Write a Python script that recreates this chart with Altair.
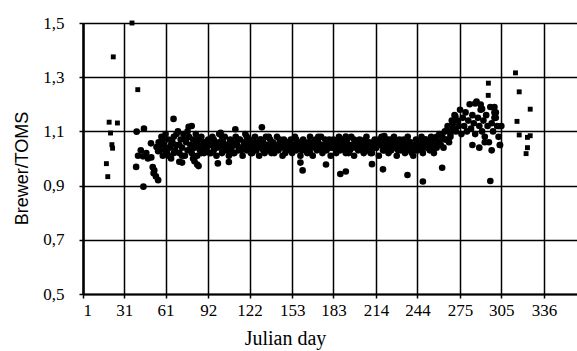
import altair as alt
import pandas as pd

# ---- tick labels ----
x_ticks = [1, 31, 61, 92, 122, 153, 183, 214, 244, 275, 305, 336]
y_ticks = [0.5, 0.7, 0.9, 1.1, 1.3, 1.5]

# ---- early sparse points (small squares) ----
early_sq_day = [18, 19, 20, 21, 22, 22.5, 23, 26, 36.6, 40.8]
early_sq_val = [0.981, 0.933, 1.134, 1.094, 1.051, 1.038, 1.375, 1.131, 1.5, 1.254]

# ---- early scattered points (dots) ----
early_dot_day = [40, 45.3, 50.4, 54.4, 55.6, 41, 44.6, 48.2, 50.6, 39.6, 51.7, 52.8, 52.3, 54, 55.6, 44.9, 66.8, 77.8, 47, 43]
early_dot_val = [1.099, 1.11, 1.056, 1.042, 1.027, 1.01, 1.008, 1.0, 1.004, 0.969, 0.968, 0.956, 0.946, 0.934, 0.92, 0.896, 1.146, 1.117, 1.02, 1.03]

# ---- main band, first row ----
band_a_day = [56, 57, 58, 59, 60, 61, 62, 63, 64, 65, 66, 67, 68, 69, 70, 71, 72, 73, 74, 75,
              76, 77, 78, 79, 80, 81, 82, 83, 84, 85, 86, 87, 88, 89, 90,
              91, 92, 93, 94, 95, 96, 97, 98, 99, 100, 101, 102, 103, 104, 105, 106, 107, 108, 109, 110,
              111, 112, 113, 114, 115, 116, 117, 118, 119, 120, 121, 122, 123, 124, 125, 126, 127, 128, 129, 130,
              131, 132, 133, 134, 135, 136, 137, 138, 139, 140, 141, 142, 143, 144, 145, 146, 147, 148, 149, 150,
              151, 152, 153, 154, 155, 156, 157, 158, 159, 160, 161, 162, 163, 164, 165, 166, 167, 168, 169, 170,
              171, 172, 173, 174, 175, 176, 177, 178, 179, 180, 181, 182, 183, 184, 185, 186, 187, 188, 189, 190,
              191, 192, 193, 194, 195, 196, 197, 198, 199, 200, 201, 202, 203, 204, 205, 206, 207, 208, 209, 210,
              211, 212, 213, 214, 215, 216, 217, 218, 219, 220, 221, 222, 223, 224, 225, 226, 227, 228, 229, 230,
              231, 232, 233, 234, 235, 236, 237, 238, 239, 240, 241, 242, 243, 244, 245, 246, 247, 248, 249, 250,
              251, 252, 253, 254, 255, 256, 257, 258, 259, 260, 261, 262, 263, 264, 265, 266, 267, 268, 269, 270]
band_a_val = [1.06, 1.03, 1.08, 1.01, 1.05, 1.09, 1.02, 1.07, 1.04, 1.00, 1.06, 1.08, 1.03, 1.05, 1.10, 1.02, 1.07, 1.04, 1.09, 1.01,
              1.06, 1.03, 1.08, 1.05, 1.02, 1.07, 1.04, 1.06, 1.01, 1.05, 1.03, 1.08, 1.04, 1.02, 1.06,
              1.04, 1.07, 1.02, 1.05, 1.08, 1.03, 1.06, 1.01, 1.05, 1.09, 1.04, 1.02, 1.06, 1.08, 1.03, 1.05, 1.01, 1.07, 1.04, 1.06,
              1.02, 1.08, 1.05, 1.03, 1.07, 1.04, 1.01, 1.06, 1.09, 1.03, 1.05, 1.07, 1.02, 1.06, 1.04, 1.08, 1.03, 1.05, 1.01, 1.07,
              1.04, 1.06, 1.02, 1.08, 1.05, 1.03, 1.07, 1.04, 1.06, 1.02, 1.05, 1.08, 1.03, 1.06, 1.04, 1.01, 1.07, 1.05, 1.03, 1.06,
              1.04, 1.07, 1.02, 1.05, 1.08, 1.03, 1.06, 1.04, 1.01, 1.05, 1.07, 1.03, 1.05, 1.02, 1.06, 1.08, 1.04, 1.01, 1.05, 1.07,
              1.03, 1.06, 1.04, 1.08, 1.02, 1.05, 1.07, 1.03, 1.06, 1.04, 1.01, 1.05, 1.07, 1.04, 1.02, 1.06, 1.08, 1.03, 1.05, 1.04,
              1.06, 1.02, 1.07, 1.05, 1.03, 1.08, 1.04, 1.01, 1.06, 1.05, 1.03, 1.07, 1.04, 1.06, 1.02, 1.05, 1.08, 1.03, 1.06, 1.04,
              1.02, 1.05, 1.07, 1.04, 1.06, 1.01, 1.05, 1.08, 1.03, 1.06, 1.04, 1.07, 1.02, 1.05, 1.03, 1.06, 1.08, 1.04, 1.01, 1.05,
              1.07, 1.03, 1.06, 1.04, 1.02, 1.05, 1.08, 1.03, 1.06, 1.04, 1.01, 1.05, 1.07, 1.03, 1.06, 1.04, 1.08, 1.02, 1.05, 1.07,
              1.04, 1.06, 1.03, 1.08, 1.05, 1.02, 1.07, 1.04, 1.06, 1.09, 1.05, 1.08, 1.04, 1.10, 1.07, 1.12, 1.06, 1.09, 1.14, 1.11]

# ---- main band, second row ----
band_b_day = [57, 59, 61, 63, 65, 67, 69, 71, 73, 75, 77, 79, 81, 83, 85, 87, 89,
              92, 94, 96, 98, 100, 102, 104, 106, 108, 110, 112, 114, 116, 118, 120, 122, 124, 126, 128, 130,
              132, 134, 136, 138, 140, 142, 144, 146, 148, 150, 152, 154, 156, 158, 160, 162, 164, 166, 168, 170,
              172, 174, 176, 178, 180, 182, 184, 186, 188, 190, 192, 194, 196, 198, 200, 202, 204, 206, 208, 210,
              212, 214, 216, 218, 220, 222, 224, 226, 228, 230, 232, 234, 236, 238, 240, 242, 244, 246, 248, 250,
              252, 254, 256, 258, 260, 262, 264, 266, 268]
band_b_val = [1.05, 1.07, 1.03, 1.01, 1.05, 1.02, 1.09, 1.05, 1.01, 1.07, 1.10, 1.03, 1.00, 1.09, 1.07, 1.02, 1.06,
              1.05, 1.02, 1.07, 1.04, 1.06, 1.08, 1.05, 1.03, 1.06, 1.02, 1.05, 1.07, 1.03, 1.05, 1.08, 1.04, 1.02, 1.06, 1.04, 1.07,
              1.03, 1.05, 1.08, 1.02, 1.05, 1.04, 1.07, 1.05, 1.02, 1.06, 1.05, 1.03, 1.07, 1.05, 1.03, 1.06, 1.04, 1.02, 1.06, 1.04,
              1.08, 1.05, 1.03, 1.05, 1.07, 1.04, 1.06, 1.03, 1.05, 1.07, 1.04, 1.02, 1.05, 1.07, 1.04, 1.05, 1.03, 1.07, 1.05, 1.02,
              1.06, 1.04, 1.07, 1.05, 1.03, 1.05, 1.07, 1.04, 1.06, 1.03, 1.05, 1.07, 1.04, 1.06, 1.02, 1.05, 1.03, 1.06, 1.04, 1.07,
              1.05, 1.06, 1.04, 1.08, 1.06, 1.09, 1.07, 1.11, 1.08]

# ---- autumn rise (dots) ----
late_dot_day = [270, 271, 272, 273, 274, 275, 276, 277, 278, 279, 280, 281, 282, 283, 284, 285, 286, 287, 288, 289,
                290, 291, 292, 293, 294, 295, 296, 297, 298, 299, 300, 301, 302, 303, 304, 305,
                284, 289, 293, 298, 290, 291, 300, 301, 300, 286, 271.6, 304]
late_dot_val = [1.13, 1.16, 1.10, 1.14, 1.12, 1.18, 1.09, 1.15, 1.12, 1.17, 1.10, 1.14, 1.20, 1.11, 1.16, 1.13, 1.09, 1.21, 1.15, 1.12,
                1.18, 1.10, 1.14, 1.08, 1.16, 1.12, 1.06, 1.19, 1.13, 1.10, 1.17, 1.15, 1.12, 1.08, 1.05, 1.12,
                1.05, 1.04, 1.06, 1.03, 1.199, 1.183, 1.19, 1.17, 1.15, 1.203, 1.156, 1.05]

# ---- late sparse points (small squares) ----
late_sq_day = [315.3, 295.6, 318, 295.5, 326, 316.4, 318, 324, 326, 324, 323, 304]
late_sq_val = [1.316, 1.278, 1.246, 1.233, 1.182, 1.137, 1.087, 1.078, 1.084, 1.04, 1.018, 1.117]

# ---- isolated low / high dots within the band period ----
odd_day = [73, 84, 85, 99, 107, 160.6, 188, 192, 177.6, 159, 211, 219, 236.8, 248, 262, 297, 71, 82,
           80, 111.7, 131, 101, 192, 220]
odd_val = [0.985, 0.978, 0.972, 0.982, 0.987, 0.956, 0.943, 0.952, 0.978, 0.985, 0.979, 0.96, 0.939, 0.915, 0.966, 0.917, 0.988, 0.99,
           1.12, 1.108, 1.115, 1.095, 1.081, 1.083]

rows = []
for d, v in zip(early_sq_day, early_sq_val):
    rows.append((d, v, "square"))
for d, v in zip(late_sq_day, late_sq_val):
    rows.append((d, v, "square"))
for ds, vs in [(early_dot_day, early_dot_val), (band_a_day, band_a_val), (band_b_day, band_b_val),
               (late_dot_day, late_dot_val), (odd_day, odd_val)]:
    for d, v in zip(ds, vs):
        rows.append((d, v, "circle"))
df = pd.DataFrame(rows, columns=["day", "ratio", "shape"])

chart = alt.Chart(df).mark_point(filled=True, color="black", opacity=1, strokeWidth=0).encode(
    x=alt.X("day:Q",
            scale=alt.Scale(domain=[1, 360], nice=False, zero=False),
            axis=alt.Axis(values=x_ticks, title="Julian day", grid=True,
                          labelFont="Liberation Serif", labelFontSize=17, labelColor="black",
                          labelPadding=4, tickSize=4, tickColor="black", tickWidth=1.5,
                          domainColor="black", domainWidth=2,
                          titleFont="Liberation Serif", titleFontSize=20, titleFontWeight="normal",
                          titleColor="black", titleX=202, titleY=50, titleAlign="center",
                          titleBaseline="alphabetic")),
    y=alt.Y("ratio:Q",
            scale=alt.Scale(domain=[0.5, 1.5], nice=False, zero=False),
            axis=alt.Axis(values=y_ticks, title="Brewer/TOMS", grid=True,
                          labelExpr="replace(format(datum.value, '.1f'), '.', ',')",
                          labelFont="Liberation Serif", labelFontSize=17, labelColor="black",
                          labelPadding=15, tickSize=4, tickColor="black", tickWidth=1.5,
                          domainColor="black", domainWidth=2.5,
                          titleFont="Liberation Sans", titleFontSize=18, titleFontWeight="normal",
                          titleColor="black", titleX=-61, titleY=145, titleAngle=-90,
                          titleAlign="center", titleBaseline="middle")),
    shape=alt.Shape("shape:N", scale=alt.Scale(domain=["circle", "square"], range=["circle", "square"]), legend=None),
    size=alt.Size("shape:N", scale=alt.Scale(domain=["circle", "square"], range=[44, 24]), legend=None),
).properties(
    width=494, height=271,
    padding={"left": 83, "top": 23, "right": 0, "bottom": 57},
    autosize="none",
).configure_view(stroke=None).configure_axis(
    gridColor="black", gridWidth=1.5, gridOpacity=1
)

chart.save("out.html", embed_options={"renderer": "svg", "actions": False})
